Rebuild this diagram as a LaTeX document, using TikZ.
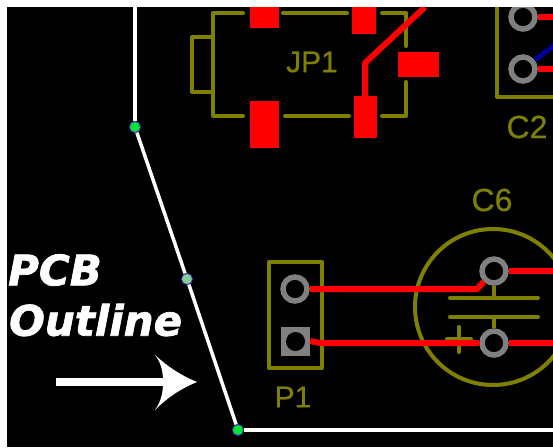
\documentclass[tikz,border=0pt]{standalone}
\usepackage{fontspec}
\setmainfont[FakeBold=0.5]{Liberation Sans}
\newfontfamily\calloutfont[BoldItalicFeatures={FakeBold=1.6}]{DejaVu Sans}
\usepackage{tikz,xcolor}
\usetikzlibrary{shapes.geometric, arrows, positioning}

\begin{document}
\begin{tikzpicture}[x=1pt, y=-1pt]

\definecolor{silkcolor}{rgb}{0.5, 0.5, 0}
\definecolor{padcolor}{rgb}{0.5, 0.5, 0.5}
\definecolor{toplayer}{rgb}{1, 0, 0}
\definecolor{botlayer}{rgb}{0, 0, 0.6}
\definecolor{vertexcolor}{rgb}{0, 0.9, 0.2}
\definecolor{vertexline}{rgb}{0.3, 0.2, 0.8}

\tikzstyle{silk} = [draw=silkcolor, line width=4pt, line join=round, line cap=round]
\tikzstyle{label} = [text=silkcolor, inner sep=0pt, font=\fontsize{30}{30}\selectfont]
\tikzstyle{smd} = [rectangle, fill=toplayer, inner sep=0pt, anchor=north west]
\tikzstyle{via} = [circle, draw=padcolor, fill=black, line width=5.5pt, inner sep=0pt, minimum size=24pt]
\tikzstyle{squarepad} = [rectangle, fill=padcolor, inner sep=0pt, minimum size=29pt]
\tikzstyle{hole} = [circle, fill=black, inner sep=0pt, minimum size=19pt]
\tikzstyle{trace} = [draw=toplayer, line width=6pt, line join=round]
\tikzstyle{edge} = [draw=white, line width=3.5pt]
\tikzstyle{vertex} = [circle, draw=vertexline, fill=vertexcolor, line width=0.8pt, inner sep=0pt, minimum size=11pt]
\tikzstyle{callout} = [text=white, inner sep=0pt, anchor=west, font=\calloutfont\bfseries\itshape\fontsize{42}{42}\selectfont]

\useasboundingbox (0,0) rectangle (553,447);
\fill[white] (0,0) rectangle (553,447);
\fill[black] (7,7) rectangle (553,447);

\begin{scope}
\clip (7,7) rectangle (553,447);

% silkscreen
\draw[silk] (243,13) -- (213,13) -- (213,116) -- (243,116);
\draw[silk] (283,13) -- (347,13);
\draw[silk] (382,13) -- (406,13) -- (406,46);
\draw[silk] (406,82) -- (406,116) -- (382,116);
\draw[silk] (285,116) -- (349,116);
\draw[silk] (213,37) -- (192,37) -- (192,92) -- (213,92);
\draw[silk] (497,0) -- (497,97) -- (560,97);
\draw[silk] (269,262) rectangle (322,368);
\draw[silk] (493,307) circle (78);
\draw[silk] (450,298) -- (538,298);
\draw[silk] (450,317) -- (538,317);
\draw[silk] (447,339) -- (471,339);
\draw[silk] (459,327) -- (459,352);

\node[label] (JP1) at (312,62) {JP1};
\node[label, font=\fontsize{32}{32}\selectfont] (C2) at (527,127) {C2};
\node[label, font=\fontsize{32}{32}\selectfont] (C6) at (492,200) {C6};
\node[label] (P1) at (293,397) {P1};

% smd pads
\node[smd, minimum width=29pt, minimum height=28pt] (JPa) at (250,0) {};
\node[smd, minimum width=24pt, minimum height=34pt] (JPb) at (352,0) {};
\node[smd, minimum width=41pt, minimum height=25pt] (JPc) at (398,52) {};
\node[smd, minimum width=29pt, minimum height=47pt] (JPd) at (250,101) {};
\node[smd, minimum width=23pt, minimum height=42pt] (JPe) at (354,96) {};

% through hole pads
\node[via] (C2a) at (523,17) {};
\node[via] (C2b) at (523,69) {};
\node[via] (C6a) at (494,271) {};
\node[via] (C6b) at (494,343) {};
\node[via] (P1a) at (295,289) {};
\node[squarepad] (P1b) at (295.5,341.5) {};
\node[hole] (P1c) at (295.5,341.5) {};

\coordinate (C6p) at (494,298);
\coordinate (C6n) at (494,317);
\coordinate (C2r) at (560,17);
\coordinate (C2s) at (560,69);
\coordinate (C2t) at (560,41);
\coordinate (C6r) at (560,271);
\coordinate (C6s) at (560,343);
\coordinate (JPt) at (425,7);

\draw[silk, line cap=butt] (C6a) -- (C6p);
\draw[silk, line cap=butt] (C6b) -- (C6n);

% traces
\draw[trace] (JPe.north -| 365,96) -- (365,63) -- (JPt);
\draw[trace] (C2a) -- (C2r);
\draw[trace] (C2b) -- (C2s);
\draw[draw=botlayer, line width=5pt] (C2b) -- (C2t);
\draw[trace] (C6a) -- (C6r);
\draw[trace] (C6b) -- (C6s);
\draw[trace] (P1a) -- (477,289) -- (C6a);
\draw[trace] (P1b.east |- 0,341) -- (320,343) -- (C6b);

% board outline
\node[vertex] (V1) at (135,127) {};
\node[vertex, fill=vertexcolor!40!white!85!black] (V2) at (187,279) {};
\node[vertex] (V3) at (238,430) {};
\coordinate (V0) at (135,0);
\coordinate (V4) at (560,430);

\draw[edge] (V0) -- (V1);
\draw[edge] (V1) -- (V2);
\draw[edge] (V2) -- (V3);
\draw[edge] (V3) -- (V4);

% callout
\node[callout] (PCB) at (8,270) {PCB};
\node[callout] (Outline) at (9,320) {Outline};
\coordinate (ArrowA) at (56,382);
\coordinate (ArrowB) at (170,382);
\draw[draw=white, line width=8pt] (ArrowA) -- (ArrowB);
\fill[white] (197,382) .. controls (180,389) and (167,398) .. (155,410) .. controls (162,400) and (163,391) .. (163,382) .. controls (163,373) and (162,364) .. (155,355) .. controls (167,366) and (180,375) .. (197,382) -- cycle;
\end{scope}

\end{tikzpicture}
\end{document}
